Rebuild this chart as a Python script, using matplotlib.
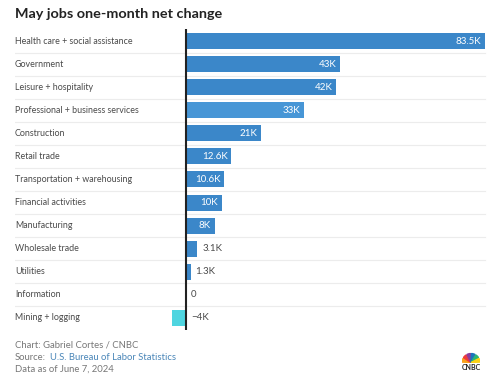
import matplotlib
matplotlib.use("Agg")
import matplotlib.pyplot as plt
from matplotlib.patches import Wedge

plt.rcParams['font.family'] = ['Lato', 'DejaVu Sans']

# data (thousands of jobs)
sectors = ['Health care + social assistance', 'Government', 'Leisure + hospitality',
           'Professional + business services', 'Construction', 'Retail trade',
           'Transportation + warehousing', 'Financial activities', 'Manufacturing',
           'Wholesale trade', 'Utilities', 'Information', 'Mining + logging']
values = [83.5, 43, 42, 33, 21, 12.6, 10.6, 10, 8, 3.1, 1.3, 0, -4]
labels = ['83.5K', '43K', '42K', '33K', '21K', '12.6K', '10.6K', '10K', '8K',
          '3.1K', '1.3K', '0', '\u22124K']
bar_colors = ['#3b87c9', '#3b87c9', '#3b87c9', '#4796d6', '#3b87c9', '#3b87c9',
              '#3b87c9', '#3b87c9', '#3b87c9', '#3b87c9', '#3b87c9', '#3b87c9', '#4fd5e0']

W, H = 500, 385
fig = plt.figure(figsize=(W / 100, H / 100), dpi=100)

# pixel layout
zero_px, full_px = 186, 485
ppk = (full_px - zero_px) / values[0]
left_px, right_px = 15, 490
row0, step = 41, 23.08
n = len(sectors)
top_px = row0 - step / 2
bot_px = row0 + step * (n - 0.5)

ax = fig.add_axes([left_px / W, 1 - bot_px / H, (right_px - left_px) / W, (bot_px - top_px) / H])
xmin = (left_px - zero_px) / ppk
xmax = (right_px - zero_px) / ppk
ax.set_xlim(xmin, xmax)
ax.set_ylim(n - 0.5, -0.5)
ax.axis('off')

ypos = list(range(n))
ax.barh(ypos, values, height=16 / step, color=bar_colors, zorder=2)

for i in range(n - 1):
    ax.plot([xmin, (485 - zero_px) / ppk], [i + 0.5, i + 0.5], color='#ececec', lw=0.8, zorder=1)

ax.axvline(0, color='#222222', lw=1.5, zorder=3)

for i, (s, v, lab) in enumerate(zip(sectors, values, labels)):
    ax.text(xmin, i, s, ha='left', va='center', fontsize=6.4, color='#4a4a4a')
    if v >= 5:
        ax.text(v - 1.0, i, lab, ha='right', va='center', fontsize=7.0, color='white', zorder=4)
    elif v > 0:
        ax.text(v + 1.4, i, lab, ha='left', va='center', fontsize=7.0, color='#4a4a4a')
    else:
        ax.text(1.4, i, lab, ha='left', va='center', fontsize=7.0, color='#4a4a4a')

fig.text(15 / W, 1 - 14 / H, 'May jobs one-month net change', fontsize=10.4, fontweight='bold',
         color='#222222', ha='left', va='center')

fig.text(15 / W, 1 - 345 / H, 'Chart: Gabriel Cortes / CNBC', fontsize=6.8, color='#777777', va='center')
fig.text(15 / W, 1 - 357 / H, 'Source:', fontsize=6.8, color='#777777', va='center')
fig.text(50 / W, 1 - 357 / H, 'U.S. Bureau of Labor Statistics', fontsize=6.8, color='#4a86b8', va='center')
fig.text(15 / W, 1 - 369 / H, 'Data as of June 7, 2024', fontsize=6.8, color='#777777', va='center')

# small CNBC peacock mark
lax = fig.add_axes([462 / W, 1 - 363 / H, 18 / W, 12 / H])
lax.set_xlim(-1, 1)
lax.set_ylim(0, 1.33)
lax.axis('off')
peacock = ['#f9a11b', '#ee3b3b', '#8c3b9c', '#1a75bc', '#2bb673', '#fcd116']
for k, c in enumerate(peacock):
    a0 = 180 - k * 30
    lax.add_patch(Wedge((0, 0.05), 1.0, a0 - 27, a0 - 3, color=c))
fig.text(471 / W, 1 - 367 / H, 'CNBC', ha='center', va='center', fontsize=5, fontweight='bold', color='#222222')

fig.savefig('out.png', dpi=100)
